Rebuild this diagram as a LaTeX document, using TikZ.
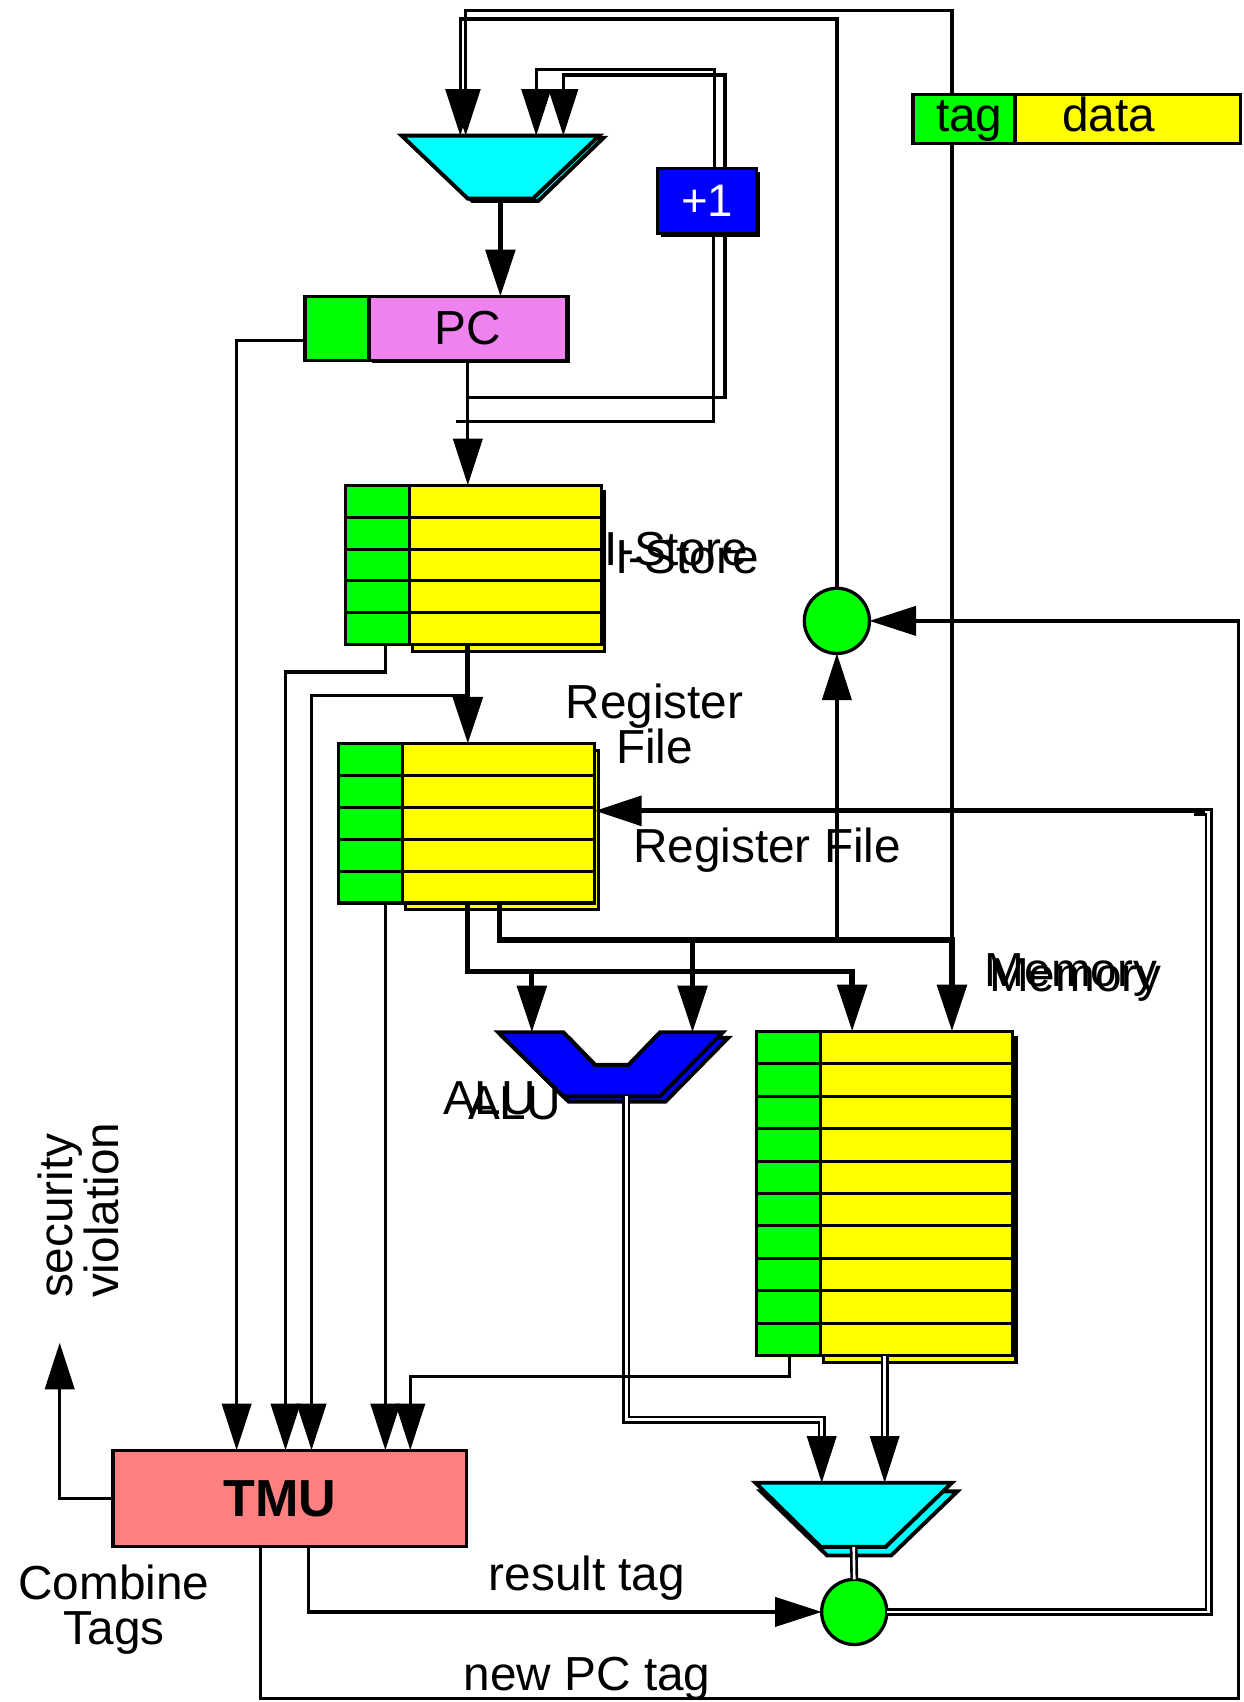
\documentclass[tikz,border=0pt]{standalone}
\usepackage{fontspec}
\setmainfont{Liberation Sans}
\usetikzlibrary{arrows.meta,positioning}

\definecolor{tagc}{RGB}{0,255,0}
\definecolor{datac}{RGB}{255,255,0}
\definecolor{muxc}{RGB}{0,255,255}
\definecolor{aluc}{RGB}{0,0,255}
\definecolor{pcc}{RGB}{238,130,238}
\definecolor{tmuc}{RGB}{255,128,128}

\begin{document}
\begin{tikzpicture}[x=1pt,y=-1pt]

\tikzset{
  wire/.style  = {line width=3pt},
  bus/.style   = {line width=4.8pt},
  dbl/.style   = {line width=2.4pt, double, double distance=2.4pt},
  flow/.style  = {-{Triangle[length=43pt,width=27pt]}},
  blk/.style   = {draw, line width=3pt, inner sep=0pt, outer sep=0pt,
                  font=\fontsize{44}{41}\selectfont},
  cell/.style  = {line width=2.8pt},
  lbl/.style   = {font=\fontsize{44}{41}\selectfont, inner sep=0pt},
  hold/.style  = {inner sep=0pt, outer sep=0pt},
  dot/.style   = {circle, draw, line width=3pt, fill=tagc,
                  minimum size=60pt, inner sep=0pt, outer sep=0pt},
  mux/.style   = {draw, line width=3.6pt, fill=muxc},
  unit/.style  = {draw, line width=3.6pt, fill=aluc},
}

\useasboundingbox (0,0) rectangle (1146,1568);

\node[hold, minimum width=182pt, minimum height=58pt] (pcmux) at (461,154) {};
\node[hold, minimum width=207pt, minimum height=59pt] (alu) at (562.5,980.5) {};
\node[hold, minimum width=181pt, minimum height=59pt] (outmux) at (786.5,1395.5) {};

% muxes and alu, each over its own offset copy
\draw[mux] (374,127) -- (556,127) -- (496,185) -- (435,185) -- cycle;
\draw[mux] (pcmux.north west) -- (pcmux.north east) -- ([xshift=-61pt]pcmux.south east) -- ([xshift=61pt]pcmux.south west) -- cycle;
\draw[unit, shift={(5,5)}] (459,951) -- (519,951) -- (548,981) -- (579,981) -- (608,951) -- (666,951) -- (608,1010) -- (519,1010) -- cycle;
\draw[unit] (alu.north west) -- (519,951) -- (548,981) -- (579,981) -- (608,951) -- (alu.north east) -- ([xshift=-58pt]alu.south east) -- ([xshift=60pt]alu.south west) -- cycle;
\draw[mux, shift={(5,8)}] (696,1366) -- (877,1366) -- (816,1425) -- (757,1425) -- cycle;
\draw[mux] (outmux.north west) -- (outmux.north east) -- ([xshift=-61pt]outmux.south east) -- ([xshift=60pt]outmux.south west) -- cycle;

% tagged stores
\foreach \nm/\xa/\ya/\rows/\h in {ist/318/447/5/29.4, rf/312/685/5/29.4, mem/697/950/10/29.9}{
  \pgfmathtruncatemacro\last{\rows-1}
  \draw[cell, fill=datac] (\xa+62,\ya+6) rectangle ++(177,\rows*\h);
  \fill[datac] (\xa,\ya) rectangle ++(236,\rows*\h);
  \fill[tagc] (\xa,\ya) rectangle ++(59,\rows*\h);
  \foreach \r in {1,...,\last}
    \draw[cell] (\xa,\ya+\r*\h) -- ++(236,0);
  \draw[cell] (\xa+59,\ya) -- ++(0,\rows*\h);
  \node[blk, minimum width=236pt, minimum height=\rows*\h pt, anchor=north west] (\nm) at (\xa,\ya) {};
}

\fill (343,272) rectangle (525,334.5);
\node[blk, fill=tagc, minimum width=59pt, minimum height=59pt] (pctag) at (310.5,302.5) {};
\node[blk, fill=pcc, minimum width=182pt, minimum height=59pt, anchor=west] (pc) at (pctag.east) {PC};
\fill (609,158) rectangle (700,218);
\node[blk, fill=aluc, text=white, minimum width=91pt, minimum height=60pt,
      font=\fontsize{42}{46}\selectfont] (inc) at (651.5,185) {+1};
\node[dot] (cmpA) at (771,572) {};
\node[dot] (cmpB) at (787,1485) {};
\node[blk, fill=tmuc, minimum width=326pt, minimum height=89pt,
      font=\bfseries\fontsize{48}{52}\selectfont] (tmu) at (267,1380.5) {TMU\kern18pt};

\coordinate (busB) at (877,866);
\coordinate (tapA) at (490,895);
\coordinate (tapB) at (638,866);
\coordinate (istout) at (431,641);
\coordinate (wb) at (1110,747);
\coordinate (viol) at (55,1237);

% pc loop
\draw[line width=4.4pt, flow] (pcmux.south) -- (pc.north -| pcmux.south);
\draw[wire, flow] (inc.north -| 658,0) |- (494,64) -- (pcmux.north -| 494,0);
\draw[wire, flow] (inc.north -| 668,0) |- (519,69) -- (pcmux.north -| 519,0);
\draw[wire] (inc.south -| 668,0) |- (pc.south |- 0,366);
\draw[wire] (inc.south -| 657,0) |- (420,388);
\draw[wire, flow] (pc.south) -- (ist.north -| pc.south);
\draw[wire, flow] ([yshift=-11pt]pctag.west) -| (tmu.north -| 218,0);
\draw[wire, flow] (cmpA.north) |- (424,17.5) -- (pcmux.north -| 424,0);
\draw[wire, flow] (busB) -- (busB |- 0,10) -| (pcmux.north -| 429,0);

% fetch and register reads
\draw[bus, flow] (ist.south -| pc.south) -- (rf.north -| pc.south);
\draw[wire, flow] (istout) -| (tmu.north -| 287,0);
\draw[wire, flow] (ist.south -| 355,0) |- (263,619) -- (tmu.north -| 263,0);
\draw[wire, flow] (rf.south -| 355,0) -- (tmu.north -| 355,0);
\draw[bus, flow] (rf.south -| 431,0) |- (785,895) -- (mem.north -| 785,0);
\draw[bus, flow] (tapA) -- (alu.north -| tapA);
\draw[bus, flow] (rf.south -| 460,0) |- (busB) -- (mem.north -| busB);
\draw[bus, flow] (tapB) -- (alu.north -| tapB);
\draw[wire, flow] (busB -| cmpA) -- (cmpA.south);

% results
\draw[dbl, flow] (alu.south -| 577,0) |- (757,1308) -- (outmux.north -| 757,0);
\draw[dbl, flow] (mem.south -| 815,0) -- (outmux.north -| 815,0);
\draw[wire, flow] (mem.south -| 727,0) |- (378,1268) -- (tmu.north -| 378,0);
\draw[dbl] (outmux.south) -- (cmpB.north);
\draw[dbl] (cmpB.east) -| (1113.5,748) -- (1100,748);
\draw[bus, flow] (wb) -- (rf.east |- wb);
\draw[wire, flow] (tmu.south -| 284,0) |- (cmpB.west);
\draw[wire, flow] (tmu.south -| 240,0) |- (1141,1565) |- (cmpA.east);
\draw[wire, flow] (tmu.west) -| (viol);

% word layout key
\node[blk, fill=tagc, minimum width=94pt, minimum height=45pt,
      text height=32pt, text depth=9pt] (tagkey) at (888,109.5) {\kern10pt tag};
\node[blk, fill=datac, minimum width=208pt, minimum height=45pt,
      text height=32pt, text depth=9pt, anchor=west] (datakey) at (tagkey.east) {data\kern 35pt};

\node[lbl, anchor=base west] (istname) at (557,521) {I-Store};
\node[lbl, anchor=base west] (istnameb) at (567,528) {I-Store};
\node[lbl, align=center] (rfname) at (603,667) {Register\\File};
\node[lbl, anchor=base west] (rfnameb) at (583,795) {Register File};
\node[lbl, anchor=base west] (memname) at (907,909) {Memory};
\node[lbl, anchor=base west] (memnameb) at (911,913) {Memory};
\node[lbl, anchor=base west] (aluname) at (408,1027) {ALU};
\node[lbl, anchor=base west] (alunameb) at (431,1031) {ALU};
\node[lbl, anchor=base west] (restag) at (450,1465) {result tag};
\node[lbl, anchor=base west] (newtag) at (427,1557) {new PC tag};
\node[lbl, align=center] (combine) at (105,1483) {Combine\\Tags};
\node[lbl, align=left, rotate=90] (secv) at (72,1115) {security\\violation};
\end{tikzpicture}
\end{document}
